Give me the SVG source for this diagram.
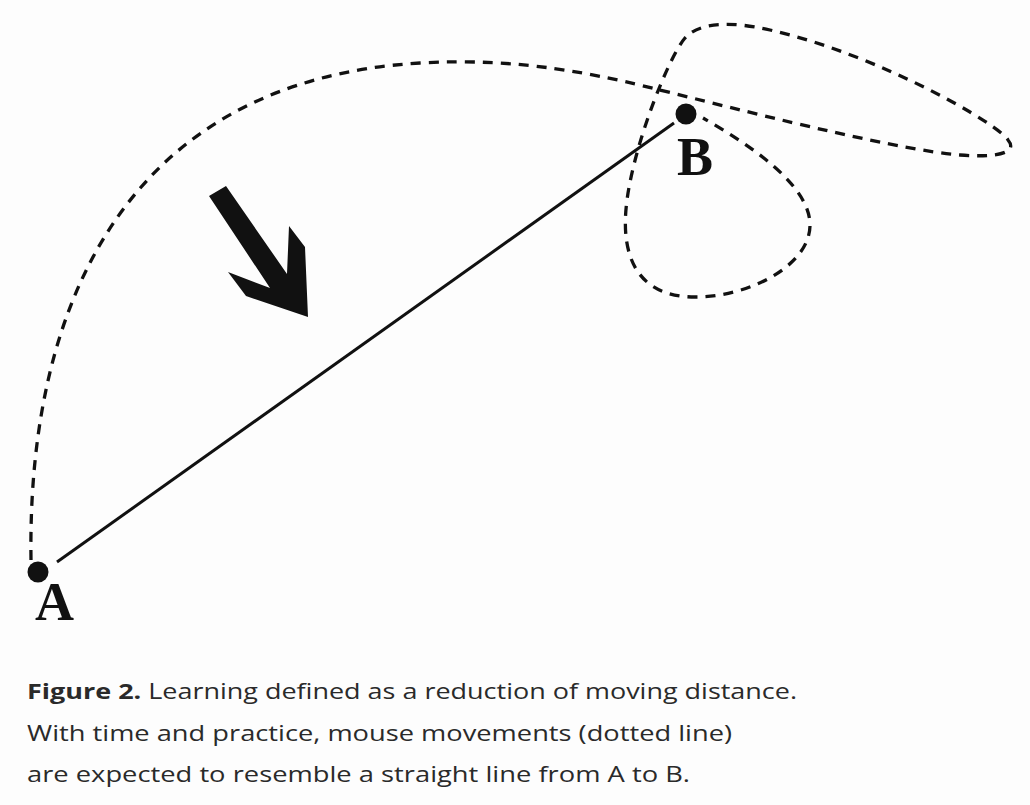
<svg xmlns="http://www.w3.org/2000/svg" width="1030" height="805" viewBox="0 0 1030 805">
  <style>
    .dash { fill: none; stroke: #111; stroke-width: 3.3; stroke-dasharray: 10 8; }
    .solid { fill: none; stroke: #111; stroke-width: 3; }
    .pt { fill: #111; }
    .lbl { font-family: "Liberation Serif", serif; font-weight: bold; font-size: 54px; fill: #111; }
    .cap { font-family: "Open Sans", "Liberation Sans", sans-serif; font-size: 22px; fill: #2a2a2a; }
    .capb { font-weight: bold; }
  </style>
  <rect x="0" y="0" width="1030" height="805" fill="#fdfdfd"/>
  <g id="connectors">
    <path id="mouse-path" class="dash" d="M31,560 C27,300 130,80 420,63 C520,57 600,75 660,90 C780,120 900,150 960,155 C1000,158 1018,152 1008,140 C1000,125 880,55 770,30 C730,21 700,22 685,38 C670,55 635,140 627,200 C619,260 640,297 695,297 C750,297 810,265 810,225 C810,185 750,145 703,118"/>
    <line id="straight-line" class="solid" x1="57" y1="562" x2="674" y2="123"/>
  </g>
  <g id="arrow">
    <polygon fill="#111" points="209,196 226,186 287,274 289,226 305,247 308,317 246,296 228,272 270,288"/>
  </g>
  <g id="node-A">
    <circle class="pt" cx="38" cy="572" r="10.5"/>
    <text class="lbl" x="35" y="620">A</text>
  </g>
  <g id="node-B">
    <circle class="pt" cx="686" cy="114" r="10.5"/>
    <text class="lbl" x="677" y="175">B</text>
  </g>
  <g id="caption">
    <text class="cap" x="27" y="699" textLength="770" lengthAdjust="spacingAndGlyphs"><tspan class="capb">Figure 2.</tspan> Learning defined as a reduction of moving distance.</text>
    <text class="cap" x="27" y="741" textLength="705" lengthAdjust="spacingAndGlyphs">With time and practice, mouse movements (dotted line)</text>
    <text class="cap" x="27" y="782" textLength="663" lengthAdjust="spacingAndGlyphs">are expected to resemble a straight line from A to B.</text>
  </g>
</svg>
